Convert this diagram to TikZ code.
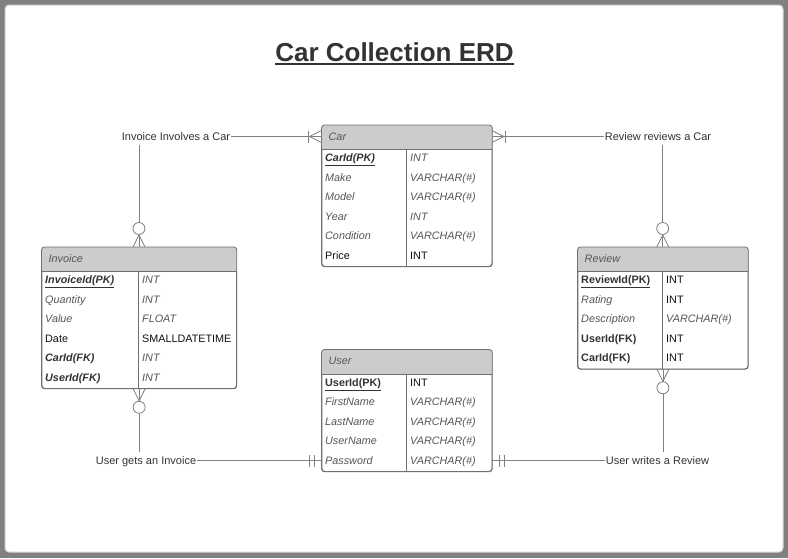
\documentclass[tikz,border=0pt]{standalone}
\usepackage{fontspec}
\setmainfont{Liberation Sans}
\definecolor{framec}{HTML}{808080}
\definecolor{edgec}{HTML}{D4D4D4}
\definecolor{linec}{HTML}{808080}
\definecolor{boxc}{HTML}{707070}
\definecolor{hdrc}{HTML}{CCCCCC}
\definecolor{itc}{HTML}{555555}
\definecolor{bdc}{HTML}{333333}
\definecolor{plc}{HTML}{111111}
\definecolor{titc}{HTML}{333333}
\newcommand\txI[1]{\textcolor{itc}{\textit{#1}}}
\newcommand\txBI[1]{\textcolor{bdc}{\textbf{\textit{#1}}}}
\newcommand\txB[1]{\textcolor{bdc}{\textbf{#1}}}
\newcommand\txP[1]{\textcolor{plc}{#1}}
\newcommand\txPKI[1]{\textcolor{bdc}{\underline{\textbf{\textit{#1}}}}}
\newcommand\txPK[1]{\textcolor{bdc}{\underline{\textbf{#1}}}}
\tikzset{
  ln/.style={draw=linec, line width=0.8pt},
  entbox/.style={draw=boxc, line width=0.8pt, rounded corners=3pt, anchor=north west, inner sep=0pt},
  hdrbox/.style={anchor=north west, inner sep=0pt, minimum height=24pt},
  hdrtext/.style={anchor=west, inner sep=0pt, text height=7.7pt, text depth=0pt, font=\fontsize{10.8}{13}\selectfont\itshape, text=itc},
  cell/.style={anchor=west, inner sep=0pt, text height=7.7pt, text depth=0pt, font=\fontsize{10.8}{13}\selectfont},
  lbl/.style={inner xsep=1pt, inner ysep=0pt, text height=7.9pt, text depth=0pt, font=\fontsize{11}{13}\selectfont, text=bdc},
  cfmany/.pic={\draw[ln] (0,-6) -- (12,0) -- (0,6);},
  onebar/.pic={\draw[ln] (13,-6) -- (13,6);},
  zcirc/.pic={\draw[ln, fill=white] (18.5,0) circle[radius=6pt];},
  twobar/.pic={\draw[ln] (7,-6) -- (7,6) (12,-6) -- (12,6);}
}
% #1 name, #2 x, #3 top, #4 width, #5 divider offset, #6 rows, #7 title
\newcommand\ertable[7]{%
  \node[entbox, minimum width=#4pt, minimum height={24pt+#6*19.5pt}] (#1) at (#2,#3) {};
  \begin{scope}
    \clip[rounded corners=3pt] (#1.north west) rectangle (#1.south east);
    \fill[hdrc] (#1.north west) rectangle ([yshift=-24pt]#1.north east);
  \end{scope}
  \node[hdrbox, minimum width=#4pt] (#1h) at (#1.north west) {};
  \draw[draw=boxc, line width=0.8pt] (#1h.south west) -- (#1h.south east);
  \draw[draw=boxc, line width=0.8pt] ([xshift=#5pt]#1h.south west) -- ([xshift=#5pt]#1.south west);
  \draw[draw=boxc, line width=0.8pt, rounded corners=3pt] (#1.north west) rectangle (#1.south east);
  \node[hdrtext] (#1ht) at ([xshift=7pt, yshift=0.8pt]#1h.west) {#7};
}
% #1 table, #2 row, #3 divider offset, #4 left, #5 right
\newcommand\errow[5]{%
  \node[cell] (#1r#2a) at ([xshift=3.5pt, yshift={-23.2pt-(#2-0.5)*19.5pt}]#1.north west) {#4};
  \node[cell] (#1r#2b) at ([xshift={#3pt+3.5pt}, yshift={-23.2pt-(#2-0.5)*19.5pt}]#1.north west) {#5};
}
\begin{document}
\begin{tikzpicture}[x=1pt,y=-1pt]
\useasboundingbox (0,0) rectangle (788,558);
\fill[framec] (0,0) rectangle (788,558);
\filldraw[fill=white, draw=edgec, line width=1pt, rounded corners=4pt] (5,5) rectangle (783,552);

\node[inner sep=0pt, font=\fontsize{26}{30}\selectfont\bfseries, text=titc] (title) at (394.5,52) {Car Collection ERD};
\draw[titc, line width=1.8pt] ([yshift=-2.8pt]title.base west) -- ([yshift=-2.8pt]title.base east);

% Car
\ertable{car}{321.5}{125}{170}{85}{6}{Car}
\errow{car}{1}{85}{\txPKI{CarId(PK)}}{\txI{INT}}
\errow{car}{2}{85}{\txI{Make}}{\txI{VARCHAR(\#)}}
\errow{car}{3}{85}{\txI{Model}}{\txI{VARCHAR(\#)}}
\errow{car}{4}{85}{\txI{Year}}{\txI{INT}}
\errow{car}{5}{85}{\txI{Condition}}{\txI{VARCHAR(\#)}}
\errow{car}{6}{85}{\txP{Price}}{\txP{INT}}

% Invoice
\ertable{inv}{41.5}{247}{194.5}{97}{6}{Invoice}
\errow{inv}{1}{97}{\txPKI{InvoiceId(PK)}}{\txI{INT}}
\errow{inv}{2}{97}{\txI{Quantity}}{\txI{INT}}
\errow{inv}{3}{97}{\txI{Value}}{\txI{FLOAT}}
\errow{inv}{4}{97}{\txP{Date}}{\txP{SMALLDATETIME}}
\errow{inv}{5}{97}{\txBI{CarId(FK)}}{\txI{INT}}
\errow{inv}{6}{97}{\txBI{UserId(FK)}}{\txI{INT}}

% Review
\ertable{rev}{577.5}{247}{170}{85}{5}{Review}
\errow{rev}{1}{85}{\txPK{ReviewId(PK)}}{\txP{INT}}
\errow{rev}{2}{85}{\txI{Rating}}{\txP{INT}}
\errow{rev}{3}{85}{\txI{Description}}{\txI{VARCHAR(\#)}}
\errow{rev}{4}{85}{\txB{UserId(FK)}}{\txP{INT}}
\errow{rev}{5}{85}{\txB{CarId(FK)}}{\txP{INT}}

% User
\ertable{user}{321.5}{349.5}{170}{85}{5}{User}
\errow{user}{1}{85}{\txPK{UserId(PK)}}{\txP{INT}}
\errow{user}{2}{85}{\txI{FirstName}}{\txI{VARCHAR(\#)}}
\errow{user}{3}{85}{\txI{LastName}}{\txI{VARCHAR(\#)}}
\errow{user}{4}{85}{\txI{UserName}}{\txI{VARCHAR(\#)}}
\errow{user}{5}{85}{\txI{Password}}{\txI{VARCHAR(\#)}}

% Invoice Involves a Car
\node[lbl] (l1) at (176,136.5) {Invoice Involves a Car};
\draw[ln] (l1.east) -- (l1.east -| carh.west);
\draw[ln] ([yshift=-4pt]l1.south -| invh.north) -- (invh.north);
\pic[rotate=180] at (l1.east -| carh.west) {cfmany};
\pic[rotate=180] at (l1.east -| carh.west) {onebar};
\pic[rotate=90] at (invh.north) {cfmany};
\pic[rotate=90] at (invh.north) {zcirc};

% Review reviews a Car
\node[lbl] (l2) at (658,136.5) {Review reviews a Car};
\draw[ln] (l2.west -| carh.east) -- (l2.west);
\draw[ln] ([yshift=-4pt]l2.south -| revh.north) -- (revh.north);
\pic at (l2.west -| carh.east) {cfmany};
\pic at (l2.west -| carh.east) {onebar};
\pic[rotate=90] at (revh.north) {cfmany};
\pic[rotate=90] at (revh.north) {zcirc};

% User gets an Invoice
\node[lbl] (l3) at (146,460.5) {User gets an Invoice};
\coordinate (ul) at (l3.east -| user.west);
\draw[ln] (inv.south) -- ([yshift=4pt]inv.south |- l3.north);
\draw[ln] (l3.east) -- (ul);
\pic[rotate=-90] at (inv.south) {cfmany};
\pic[rotate=-90] at (inv.south) {zcirc};
\pic[rotate=180] at (ul) {twobar};

% User writes a Review
\node[lbl] (l4) at (657.5,460.5) {User writes a Review};
\coordinate (ur) at (l4.west -| user.east);
\draw[ln] (rev.south) -- ([yshift=4pt]rev.south |- l4.north);
\draw[ln] (ur) -- (l4.west);
\pic[rotate=-90] at (rev.south) {cfmany};
\pic[rotate=-90] at (rev.south) {zcirc};
\pic at (ur) {twobar};
\end{tikzpicture}
\end{document}
